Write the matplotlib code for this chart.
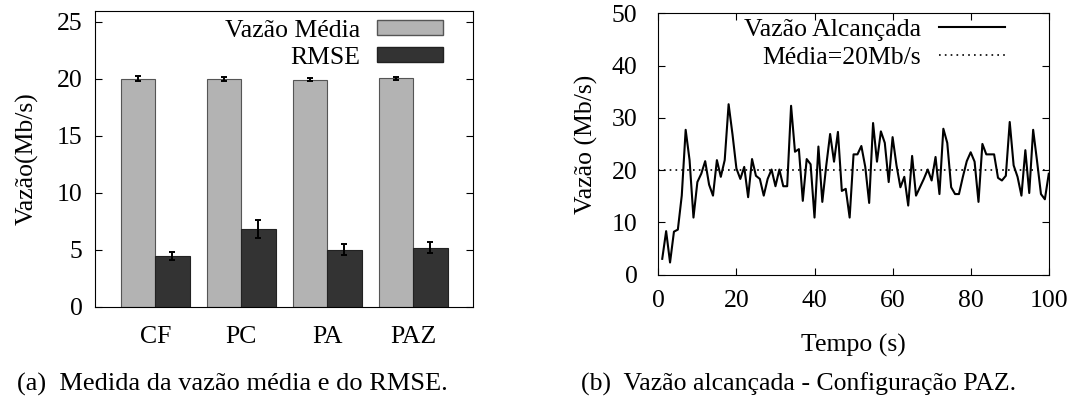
import numpy as np
import matplotlib
matplotlib.use('Agg')
import matplotlib.pyplot as plt
from matplotlib.patches import Patch
from matplotlib.lines import Line2D

plt.rcParams['font.family'] = ['Liberation Serif', 'DejaVu Serif']
plt.rcParams['font.size'] = 18.5

# (a) mean throughput and RMSE per configuration
configs = ['CF', 'PC', 'PA', 'PAZ']
vazao_media = [20.0, 19.95, 19.9, 20.05]
vazao_err = [0.2, 0.18, 0.13, 0.13]
rmse = [4.42, 6.8, 5.01, 5.19]
rmse_err = [0.35, 0.8, 0.47, 0.48]

# (b) achieved throughput over time, PAZ configuration
tempo = list(range(1, 101))
vazao = [3.0, 8.3, 2.3, 8.2, 8.6, 15.1, 27.7, 21.9, 10.9, 17.7,
         19.3, 21.7, 17.2, 15.1, 21.9, 18.7, 21.9, 32.6, 26.8, 20.3,
         18.3, 20.6, 14.8, 22.1, 18.9, 18.3, 15.1, 18.3, 20.1, 16.9,
         20.1, 16.9, 16.9, 32.3, 23.5, 24.0, 14.1, 22.1, 21.1, 10.9,
         24.5, 13.9, 20.8, 26.9, 21.6, 27.3, 16.0, 16.4, 10.9, 23.0,
         23.0, 24.6, 20.6, 13.7, 29.0, 21.6, 27.4, 25.2, 17.7, 26.3,
         20.9, 16.7, 18.7, 13.2, 22.7, 15.1, 16.7, 18.3, 20.1, 18.0,
         22.5, 15.4, 27.9, 25.2, 16.7, 15.4, 15.4, 18.7, 21.7, 23.4,
         21.6, 13.9, 25.0, 23.0, 23.0, 23.0, 18.5, 18.0, 18.9, 29.2,
         20.9, 18.7, 15.1, 23.8, 15.6, 27.7, 21.7, 15.4, 14.4, 19.3]
media = 20

fig = plt.figure(figsize=(10.75, 4.05), dpi=100)

# ---- left: bars ----
ax1 = fig.add_axes([0.0884, 0.2427, 0.3519, 0.7294])
x = np.arange(len(configs))
w = 0.4
ekw = dict(ecolor='black', elinewidth=1.4, capsize=2.5, capthick=1.4)
ax1.bar(x - w/2, vazao_media, w, yerr=vazao_err, color='#b3b3b3', edgecolor='#555555',
        linewidth=0.8, error_kw=ekw)
ax1.bar(x + w/2, rmse, w, yerr=rmse_err, color='#333333', edgecolor='#222222',
        linewidth=0.8, error_kw=ekw)
ax1.set_xlim(-0.7, 3.7)
ax1.set_ylim(0, 25.9)
ax1.set_yticks([0, 5, 10, 15, 20, 25])
ax1.set_xticks(x)
ax1.set_xticklabels(configs)
ax1.tick_params(axis='x', length=0, pad=14)
ax1.tick_params(axis='y', direction='in', right=True, length=5, pad=9)
ax1.set_ylabel('Vazão(Mb/s)', labelpad=13)
h1 = [Patch(facecolor='#b3b3b3', edgecolor='#555555'), Patch(facecolor='#333333', edgecolor='#222222')]
ax1.legend(h1, ['Vazão Média', 'RMSE'], loc='upper right', bbox_to_anchor=(0.919, 0.972),
           frameon=False, markerfirst=False, borderpad=0, borderaxespad=0,
           handlelength=2.57, handleheight=0.5, handletextpad=0.65, labelspacing=0.2)

# ---- right: line ----
ax2 = fig.add_axes([0.6124, 0.3222, 0.3632, 0.6449])
ax2.plot(tempo, vazao, color='black', linewidth=1.5)
ax2.axhline(media, color='black', linestyle=(0, (1, 2.5)), linewidth=1.2)
ax2.set_xlim(0, 100)
ax2.set_ylim(0, 50)
ax2.set_xticks(range(0, 101, 20))
ax2.set_yticks(range(0, 51, 10))
ax2.tick_params(direction='in', top=True, right=True, length=5)
ax2.tick_params(axis='y', pad=15)
ax2.tick_params(axis='x', pad=11)
ax2.set_xlabel('Tempo (s)', labelpad=16)
ax2.set_ylabel('Vazão (Mb/s)', labelpad=10)
h2 = [Line2D([], [], color='black', linewidth=1.5),
      Line2D([], [], color='black', linestyle=(0, (1, 2.5)), linewidth=1.2)]
ax2.legend(h2, ['Vazão Alcançada', 'Média=20Mb/s'], loc='upper right', bbox_to_anchor=(0.888, 0.982),
           frameon=False, markerfirst=False, borderpad=0, borderaxespad=0,
           handlelength=2.57, handletextpad=0.7, labelspacing=0.2)

fig.text(0.216, 0.05, '(a)  Medida da vazão média e do RMSE.', ha='center', va='center', fontsize=19)
fig.text(0.743, 0.05, '(b)  Vazão alcançada - Configuração PAZ.', ha='center', va='center', fontsize=18.5)

fig.savefig('out.png', dpi=100)
